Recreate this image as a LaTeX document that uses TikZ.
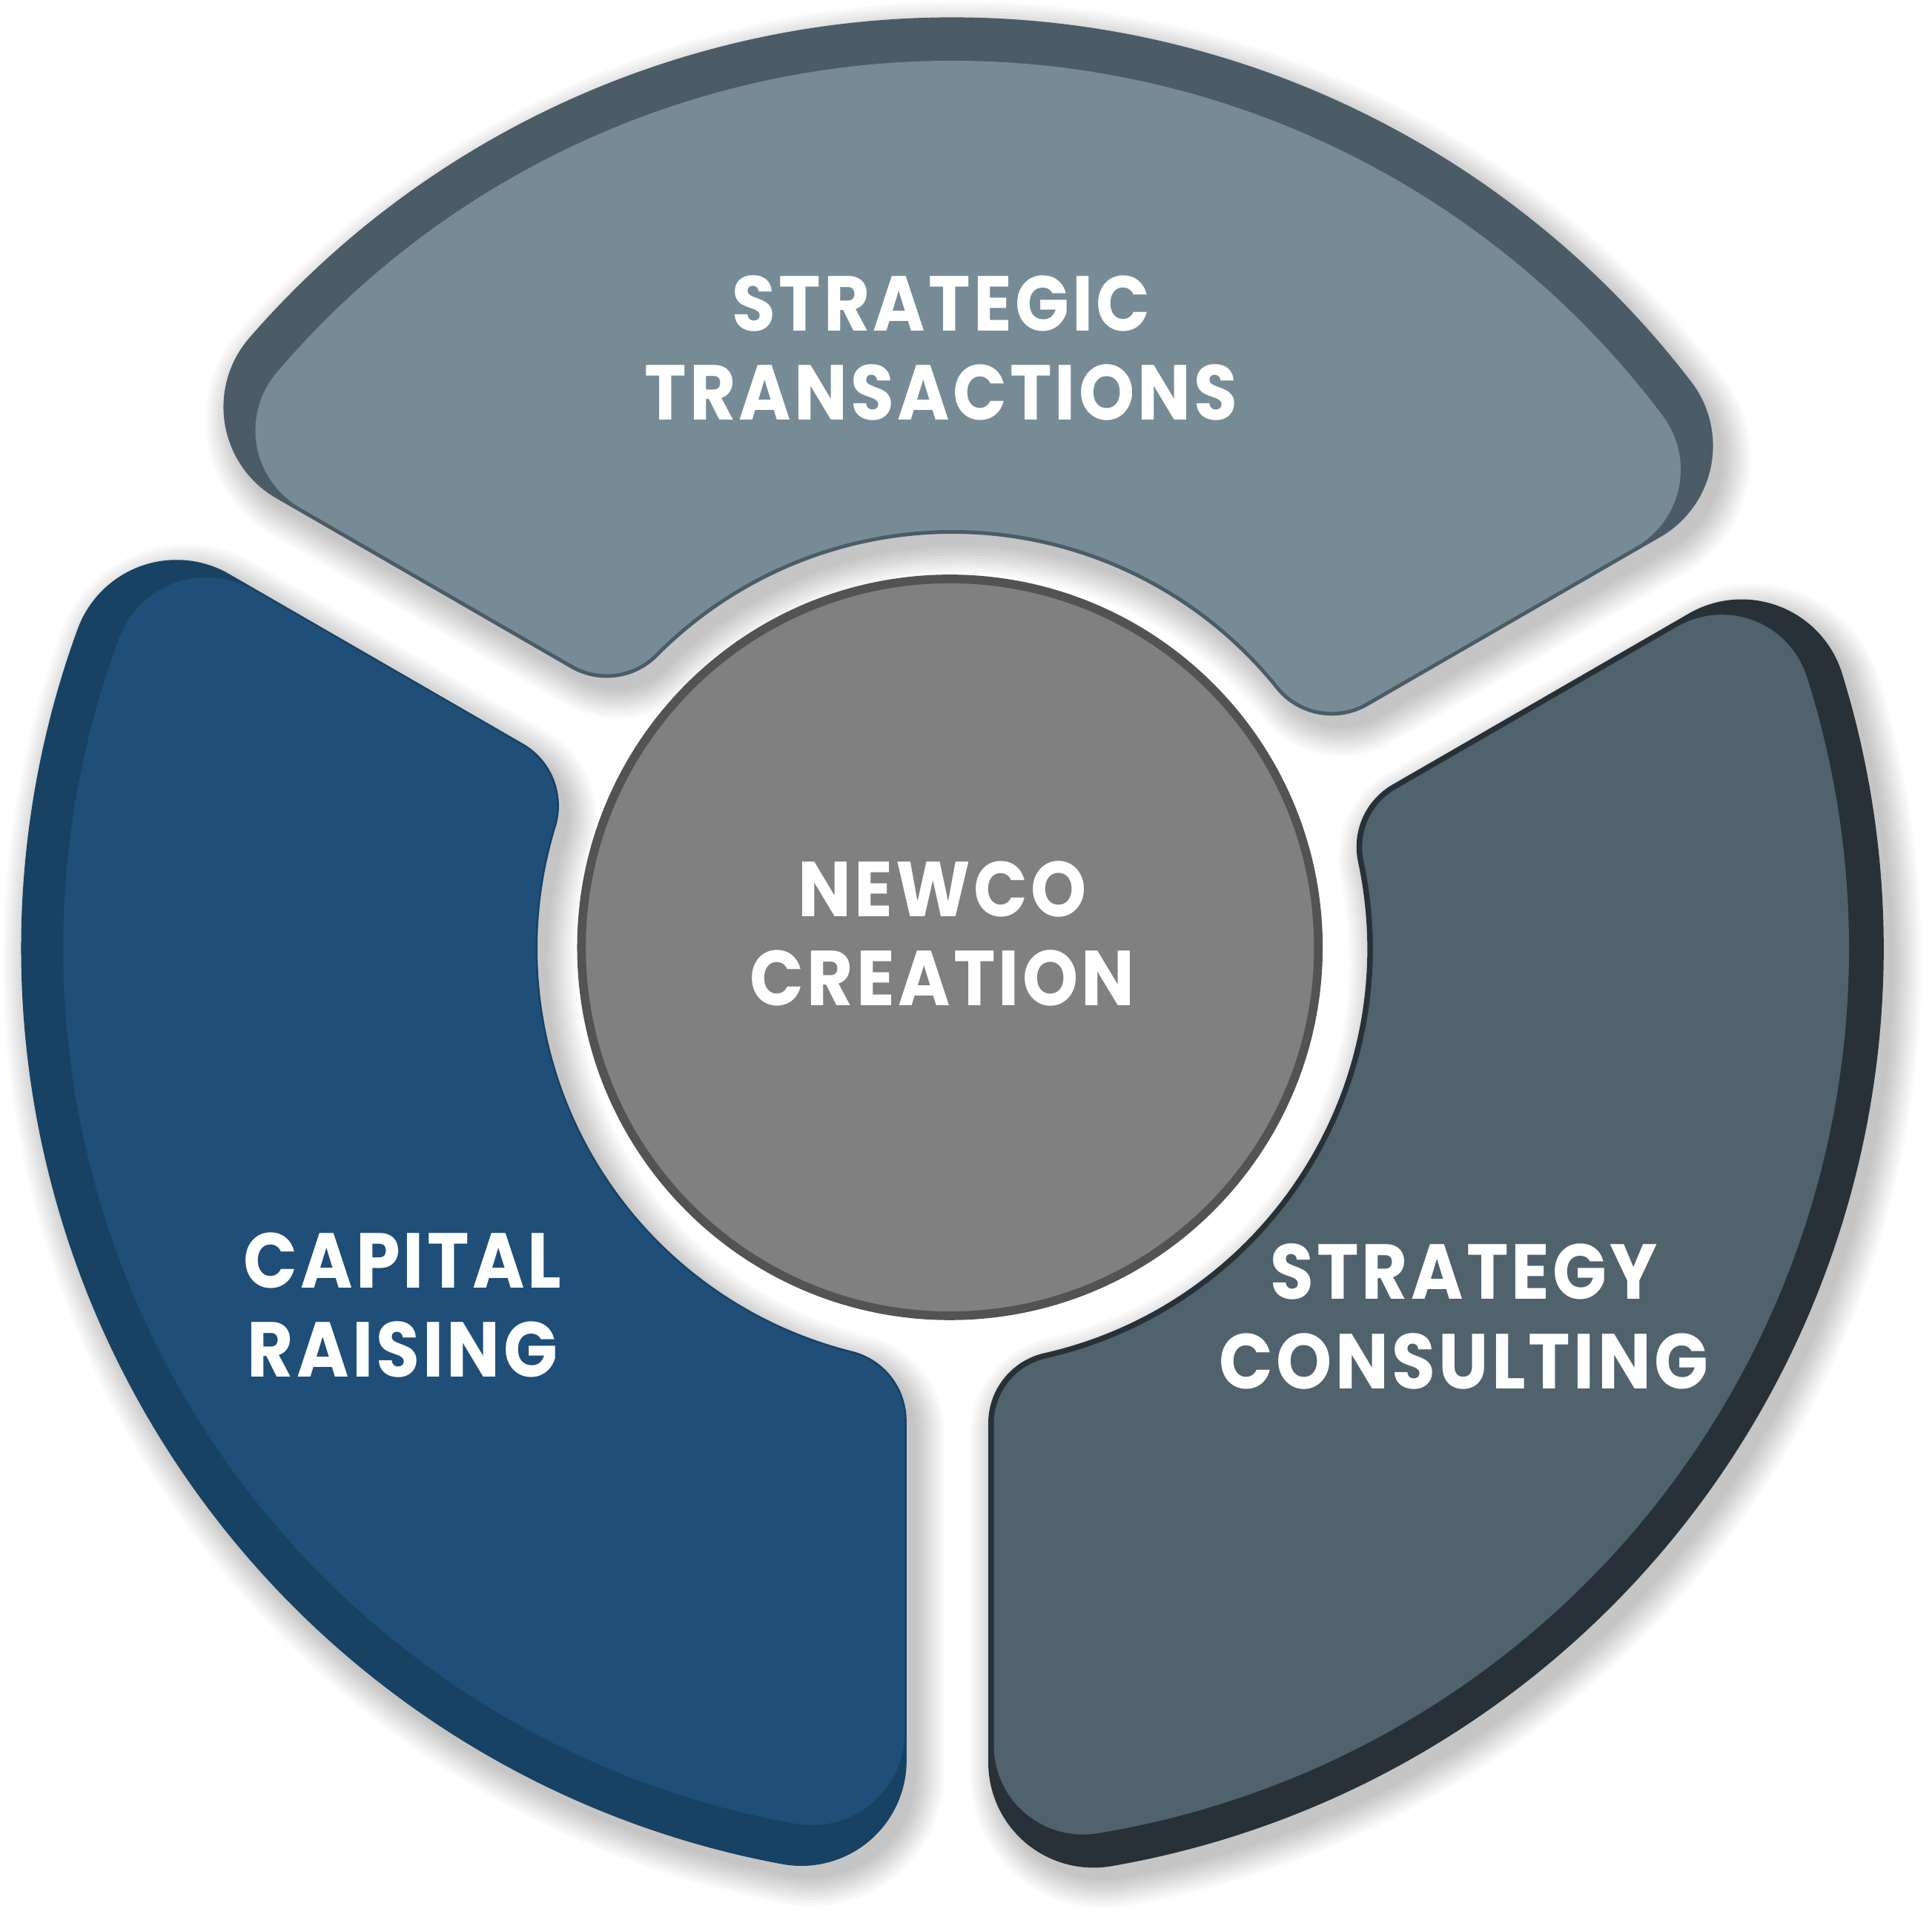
\documentclass[tikz,border=0pt]{standalone}
\usepackage{fontspec}
\setmainfont{Poppins}
\newfontfamily\labfont{Poppins}[LetterSpace=4,FakeStretch=0.91]
\definecolor{Tface}{HTML}{768B95}
\definecolor{Tdark}{HTML}{4B5C66}
\definecolor{Lface}{HTML}{1F4E78}
\definecolor{Ldark}{HTML}{184263}
\definecolor{Rface}{HTML}{50626C}
\definecolor{Rdark}{HTML}{283138}
\definecolor{Cfill}{HTML}{808080}
\definecolor{Cline}{HTML}{535353}
% ring segment between two gap lines, with filleted corners
% #1 start gap angle, #2 its offset, #3 end gap angle, #4 its offset,
% #5 outer radius, #6 inner radius, #7 outer fillet, #8 inner fillet
\newcommand\segbuild[8]{%
  \pgfmathsetmacro\sgR{#5}%
  \pgfmathsetmacro\sgr{#6}%
  \pgfmathsetmacro\sgpo{#7}%
  \pgfmathsetmacro\sgpi{#8}%
  \pgfmathsetmacro\sgRq{\sgR-\sgpo}%
  \pgfmathsetmacro\sgrq{\sgr+\sgpi}%
  \pgfmathsetmacro\sgqa{#1+asin((#2+\sgpo)/\sgRq)}%
  \pgfmathsetmacro\sgqb{#3+asin((#4-\sgpo)/\sgRq)}%
  \pgfmathsetmacro\sgpa{#1+asin((#2+\sgpi)/\sgrq)}%
  \pgfmathsetmacro\sgpb{#3+asin((#4-\sgpi)/\sgrq)}%
  \pgfmathsetmacro\sgfa{#1+90}%
  \pgfmathsetmacro\sgfb{#3+90}%
  \pgfmathsetmacro\sgeA{\sgqb+Mod(\sgfb-\sgqb,360)}%
  \pgfmathsetmacro\sgeB{\sgfb+Mod(\sgpb+180-\sgfb,360)}%
  \pgfmathsetmacro\sgsC{\sgpa+180}%
  \pgfmathsetmacro\sgeC{\sgsC+Mod(\sgfa+180-\sgsC,360)}%
  \pgfmathsetmacro\sgsD{\sgfa+180}%
  \pgfmathsetmacro\sgeD{\sgsD+Mod(\sgqa-\sgsD,360)}%
  \pgfmathsetmacro\sgBx{\sgrq*cos(\sgpb)+\sgpi*cos(\sgfb)}%
  \pgfmathsetmacro\sgBy{\sgrq*sin(\sgpb)+\sgpi*sin(\sgfb)}%
  \pgfmathsetmacro\sgAx{\sgRq*cos(\sgqa)+\sgpo*cos(\sgsD)}%
  \pgfmathsetmacro\sgAy{\sgRq*sin(\sgqa)+\sgpo*sin(\sgsD)}%
}
\def\segpath{(\sgqa:\sgR) arc[start angle=\sgqa,end angle=\sgqb,radius=\sgR]
  arc[start angle=\sgqb,end angle=\sgeA,radius=\sgpo]
  -- (\sgBx,\sgBy) arc[start angle=\sgfb,end angle=\sgeB,radius=\sgpi]
  arc[start angle=\sgpb,end angle=\sgpa,radius=\sgr]
  arc[start angle=\sgsC,end angle=\sgeC,radius=\sgpi]
  -- (\sgAx,\sgAy) arc[start angle=\sgsD,end angle=\sgeD,radius=\sgpo] -- cycle}
\newcommand\seg[9]{% #9 fill colour
  \segbuild{#1}{#2}{#3}{#4}{#5}{#6}{#7}{#8}%
  \path[fill=#9] \segpath;
}
% soft shadow: stacked, progressively grown copies
\newcommand\segshadow[8]{%
  \segbuild{#1}{#2}{#3}{#4}{#5}{#6}{#7}{#8}%
  \foreach \k in {0,...,9}{%
    \pgfmathsetlengthmacro\shw{\k*0.5mm+0.01mm}%
    \begin{scope}[transparency group,opacity=0.024]
      \path[fill=black,draw=black,line width=\shw,line join=round] \segpath;
    \end{scope}
  }%
}
\tikzset{
  label/.style={text=white,align=center,inner sep=0pt,
    font=\labfont\bfseries\fontsize{17.9pt}{20.5pt}\selectfont}
}
\begin{document}
\begin{tikzpicture}[x=0.1mm,y=-0.1mm]
\useasboundingbox (0,0) rectangle (1560,1548);
\fill[white] (0,0) rectangle (1560,1548);
% soft shadows
\begin{scope}[shift={(777,776)}]
  \segshadow{210}{42}{330}{-2}{752}{335}{85}{58}
  \segshadow{330}{63}{450}{-29}{752}{335}{85}{58}
  \segshadow{90}{37}{210}{-30}{752}{335}{85}{58}
\end{scope}
\begin{scope}[shift={(769,766)}]
  % top segment
  \seg{210}{42}{330}{-2}{752}{335}{85}{58}{Tdark}
  \seg{210}{42+3}{330}{-2-3}{717}{335+3}{72}{55}{Tface}
  % right segment
  \seg{330}{63}{450}{-29}{752}{335}{85}{58}{Rdark}
  \seg{330}{63+4.5}{450}{-29-4.5}{724}{335+4.5}{72}{54}{Rface}
  % left segment
  \seg{90}{37}{210}{-30}{752}{335}{85}{58}{Ldark}
  \seg{90}{37+1.5}{210}{-30-1.5}{718}{335+1.5}{75}{57}{Lface}
\end{scope}
% centre circle
\node (hub) [circle,fill=Cfill,draw=Cline,line width=0.7mm,minimum size=59.5mm,inner sep=0pt] at (767,765) {};
% labels
\node (st) [label] at (760,281) {STRATEGIC\\TRANSACTIONS};
\node (nc) [label] at (761,754) {NEWCO\\CREATION};
\node (cr) [label] at (325,1054) {CAPITAL\\RAISING};
\node (sc) [label] at (1182,1063) {STRATEGY\\CONSULTING};
\end{tikzpicture}
\end{document}
